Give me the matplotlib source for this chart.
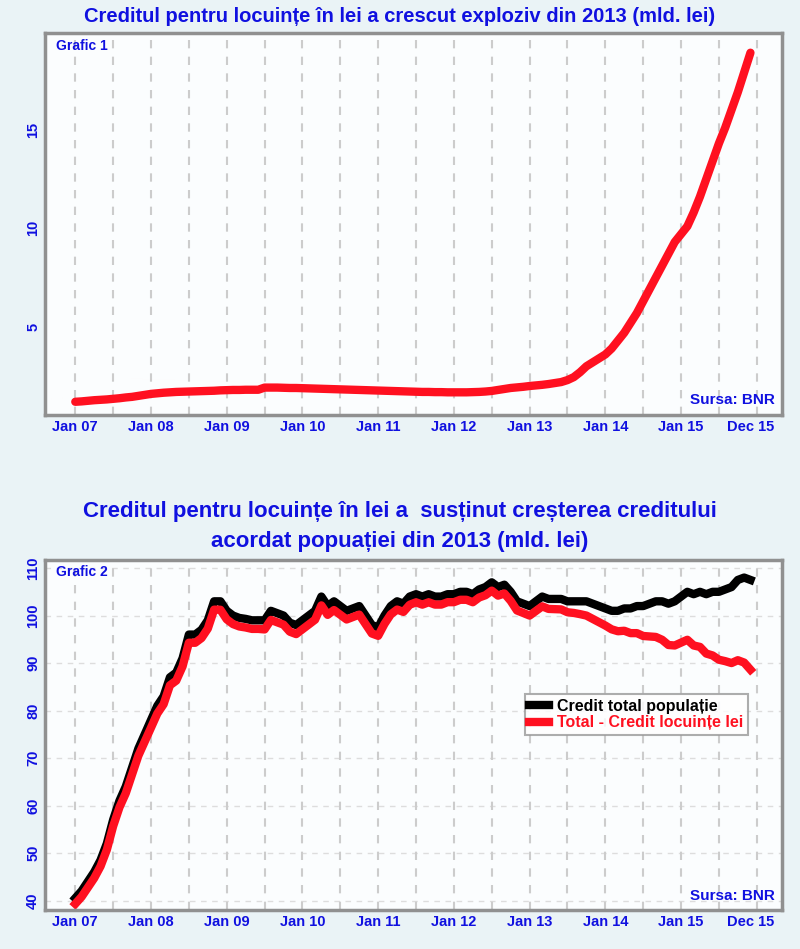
import matplotlib
matplotlib.use("Agg")
import matplotlib.pyplot as plt
import numpy as np

FONT = "Liberation Sans"
BLUE = "#1010e0"

housing_lei = [
    1.2,1.22,1.25,1.28,1.3,1.32,1.35,1.38,1.42,1.45,1.5,1.55,
    1.6,1.63,1.66,1.68,1.7,1.71,1.72,1.73,1.74,1.75,1.76,1.78,
    1.79,1.8,1.8,1.81,1.81,1.81,1.92,1.92,1.92,1.91,1.9,1.9,
    1.89,1.88,1.87,1.86,1.85,1.84,1.83,1.82,1.81,1.8,1.79,1.78,
    1.77,1.76,1.75,1.74,1.73,1.72,1.71,1.7,1.7,1.69,1.69,1.68,
    1.68,1.68,1.68,1.69,1.7,1.72,1.75,1.8,1.85,1.9,1.93,1.96,
    2.0,2.03,2.06,2.1,2.15,2.2,2.3,2.45,2.7,3.0,3.2,3.4,
    3.6,3.9,4.3,4.7,5.2,5.7,6.3,6.9,7.5,8.1,8.7,9.3,
    9.7,10.1,10.8,11.6,12.5,13.4,14.3,15.1,16.0,16.9,17.9,18.9,
]
total_population = [
    40.5,42,44,46,48.5,52,57,61,64,68,72,75,
    78,81,83,87,88,91,96,96,97,99,103,103,
    101,100,99.5,99.3,99,99,99,101,100.5,100,98.5,98,
    99,100,101,104,102,103,102,101,101.5,102,100,98,
    97.5,100,102,103,102.5,104,104.5,104,104.5,104,104,104.5,
    104.5,105,105,104.5,105.5,106,107,106,106.5,105,103,102.5,
    102,103,104,103.5,103.5,103.5,103,103,103,103,102.5,102,
    101.5,101,101,101.5,101.5,102,102,102.5,103,103,102.5,103,
    104,105,104.5,105,104.5,105,105,105.5,106,107.5,108,107.5,
]
tick_labels = ["Jan 07","Jan 08","Jan 09","Jan 10","Jan 11","Jan 12","Jan 13","Jan 14","Jan 15","Dec 15"]
tick_months = [0,12,24,36,48,60,72,84,96,107]

months = np.arange(len(housing_lei))
total_minus = np.array(total_population) - np.array(housing_lei)

fig = plt.figure(figsize=(8, 9.49), dpi=100)
fig.patch.set_facecolor("#eaf3f6")

def style(ax):
    ax.set_facecolor("#fbfdfe")
    for s in ax.spines.values():
        s.set_color("#909090"); s.set_linewidth(2.5)
    ax.set_xlim(-4.8, 112)
    ax.set_xticks(tick_months)
    ax.set_xticklabels(tick_labels)
    for x in np.arange(0, 109, 6):
        ax.axvline(x, color="#cccccc", lw=1.5, ls=(0, (4, 4)), zorder=0)
    ax.tick_params(length=0, labelsize=10.5, labelcolor=BLUE)
    for lab in ax.get_xticklabels() + ax.get_yticklabels():
        lab.set_fontfamily(FONT); lab.set_fontweight("bold")
    for lab in ax.get_yticklabels():
        lab.set_rotation(90); lab.set_va("center")

# Chart 1
ax1 = fig.add_axes([45/800, 1-415/949, 737/800, 382/949])
ax1.plot(months, housing_lei, color="#ff1020", lw=6, solid_capstyle="round")
ax1.set_ylim(0.53, 19.9)
ax1.set_yticks([5, 10, 15])
style(ax1)
ax1.text(0.015, 0.985, "Grafic 1", transform=ax1.transAxes, ha="left", va="top",
         color=BLUE, fontsize=10, fontweight="bold", fontfamily=FONT)
ax1.text(0.99, 0.02, "Sursa: BNR", transform=ax1.transAxes, ha="right", va="bottom",
         color=BLUE, fontsize=11, fontweight="bold", fontfamily=FONT)
fig.text(0.5, 1-16/949, "Creditul pentru locuințe în lei a crescut exploziv din 2013 (mld. lei)",
         ha="center", va="center", color=BLUE, fontsize=14.5, fontweight="bold", fontfamily=FONT)

# Chart 2
ax2 = fig.add_axes([45/800, 1-910/949, 737/800, 350/949])
for y in range(40, 111, 10):
    ax2.axhline(y, color="#dddddd", lw=1, ls=(0, (4, 4)), zorder=0)
ax2.plot(months, total_population, color="black", lw=6, label="Credit total populație")
ax2.plot(months, total_minus, color="#ff1020", lw=6, label="Total - Credit locuințe lei")
ax2.set_ylim(38, 111.7)
ax2.set_yticks(range(40, 111, 10))
style(ax2)
ax2.text(0.015, 0.985, "Grafic 2", transform=ax2.transAxes, ha="left", va="top",
         color=BLUE, fontsize=10, fontweight="bold", fontfamily=FONT)
ax2.text(0.99, 0.02, "Sursa: BNR", transform=ax2.transAxes, ha="right", va="bottom",
         color=BLUE, fontsize=11, fontweight="bold", fontfamily=FONT)
leg = ax2.legend(loc="upper left", bbox_to_anchor=(0.64, 0.64), frameon=True, fancybox=False,
                 handlelength=1.2, borderpad=0.3, labelspacing=0.1, handletextpad=0.5,
                 prop={"family": FONT, "weight": "bold", "size": 11.5})
leg.get_frame().set_edgecolor("#999999"); leg.get_frame().set_linewidth(1.5)
leg.get_texts()[1].set_color("#ff1020")
fig.text(0.5, 1-512/949, "Creditul pentru locuințe în lei a  susținut creșterea creditului",
         ha="center", va="center", color=BLUE, fontsize=16, fontweight="bold", fontfamily=FONT)
fig.text(0.5, 1-542/949, "acordat popuației din 2013 (mld. lei)",
         ha="center", va="center", color=BLUE, fontsize=16, fontweight="bold", fontfamily=FONT)

fig.savefig("out.png", dpi=100, facecolor=fig.get_facecolor())
